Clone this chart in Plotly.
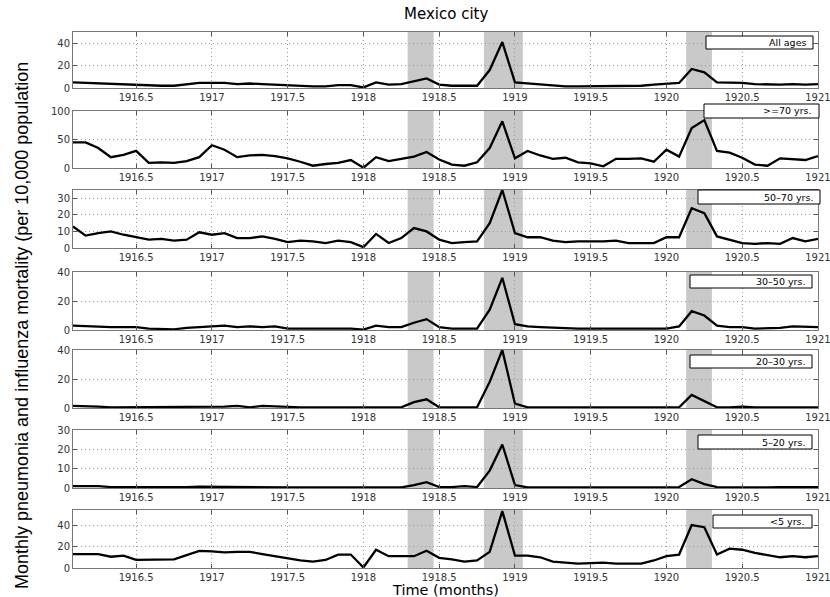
import plotly.graph_objects as go

# ---------------- data ----------------
months = [1916 + k / 12 for k in range(1, 61)]

all_ages = [5, 4.5, 4, 3.5, 3.5, 3, 2, 2, 2, 3, 4.5, 4.5,
            4.5, 3.5, 4, 3.5, 3, 2, 1.5, 1.5, 1.5, 2.5, 2.5, 0.5,
            5, 3, 3.5, 6, 8.5, 3, 2, 2, 2, 16, 41, 5,
            4, 3.5, 2.5, 1.5, 1.5, 1.5, 1.5, 1.5, 1.5, 2, 3, 4,
            4.5, 17, 14, 5, 5, 4.5, 3.5, 3, 3, 3.5, 3, 3.5]
age_70 = [45, 45, 35, 19, 23, 30, 9, 10, 9, 12, 19, 40,
          32, 19, 22, 23, 21, 17, 11, 4, 7, 9, 14, 0.5,
          19, 12, 16, 20, 28, 15, 6, 4, 10, 35, 82, 17,
          30, 22, 16, 18, 10, 8, 3, 16, 16, 17, 11, 32,
          20, 70, 84, 30, 27, 18, 6, 4, 17, 16, 14, 21]
age_50_70 = [13, 7.5, 9, 10, 8, 6.5, 5, 5.5, 4.5, 5, 9.5, 8,
             9, 6, 6, 7, 5.5, 3.5, 4.5, 4, 3, 4.5, 3.5, 0.5,
             8.5, 3, 6, 12, 10, 5, 3, 3.5, 4, 15, 35, 9,
             6.5, 6.5, 4.5, 3.5, 4, 4, 4, 4.5, 3, 3, 3, 6.5,
             6.5, 24, 21, 7, 5, 3, 2.5, 3, 2.5, 6, 4, 5.5]
age_30_50 = [3, 2.5, 2, 2, 2, 2, 1, 1, 0.5, 1.5, 2, 3,
             3, 2, 2.5, 2, 2.5, 1, 1, 1, 1, 1, 1, 0.3,
             3, 2, 2, 5, 7.5, 2, 1, 1, 1, 14, 36, 4,
             2.5, 2, 1.5, 1, 1, 1, 1, 0.5, 1, 1, 1, 1,
             2.5, 13, 10, 3, 2, 2, 1, 1, 1.5, 2.5, 2, 2]
age_20_30 = [1.5, 1.5, 1, 0.5, 0.5, 0.5, 0.5, 0.5, 0.5, 0.5, 1, 1,
             1, 1.5, 0.5, 1.5, 1, 0.5, 0.5, 0.5, 0.5, 0.5, 0.5, 0.2,
             0.5, 0.5, 0.5, 4, 6, 0.5, 0.5, 0.5, 0.5, 18, 40, 3,
             0.5, 0.5, 0.5, 0.5, 0.5, 1, 0.5, 0.5, 0.5, 0.5, 0.5, 0.5,
             0.5, 9, 5, 0.5, 0.5, 1, 0.5, 0.5, 0.5, 0.5, 0.5, 0.5]
age_5_20 = [1, 1, 1, 0.5, 0.5, 0.5, 0.2, 0.3, 0.3, 0.5, 0.7, 0.6,
            0.8, 0.4, 0.4, 0.4, 0.4, 0.3, 0.3, 0.3, 0.3, 0.3, 0.3, 0.1,
            0.3, 0.3, 0.3, 1.5, 3, 0.5, 0.5, 1, 0.5, 9, 22.5, 1.5,
            0.3, 0.3, 0.3, 0.3, 0.3, 0.4, 0.3, 0.3, 0.3, 0.4, 0.3, 0.4,
            0.5, 4.5, 2, 0.5, 0.4, 0.4, 0.3, 0.3, 0.4, 0.5, 0.3, 0.4]
age_lt5 = [13, 13, 13, 10.5, 11.5, 7.5, 7.5, 7.5, 8, 12, 16, 15.5,
           14.5, 15, 15, 13, 11, 8.5, 7, 6, 7.5, 12.5, 12.5, 0.5,
           17, 11, 11, 11, 16, 9.5, 8, 6, 7, 15, 53, 11.5,
           11.5, 10, 6, 5, 4, 4.5, 5, 4, 4, 4, 7, 11,
           12.5, 40, 38, 12.5, 18, 17, 14, 12, 10, 11, 10, 11]

series_names = ["All ages", ">=70 yrs.", "50\u201370 yrs.", "30\u201350 yrs.",
                "20\u201330 yrs.", "5\u201320 yrs.", "<5 yrs."]
series_values = [all_ages, age_70, age_50_70, age_30_50, age_20_30, age_5_20, age_lt5]
y_ranges = [[0, 50], [0, 100], [0, 35], [0, 40], [0, 40], [0, 30], [0, 54]]
y_ticks = [[0, 20, 40], [0, 50, 100], [0, 10, 20, 30], [0, 20, 40],
           [0, 20, 40], [0, 10, 20, 30], [0, 20, 40]]
x_ticks = [1916.5, 1917, 1917.5, 1918, 1918.5, 1919, 1919.5, 1920, 1920.5, 1921]
x_ticktext = ["1916.5", "1917", "1917.5", "1918", "1918.5", "1919", "1919.5",
              "1920", "1920.5", "1921"]
shade_periods = [[1918.292, 1918.463], [1918.795, 1919.052], [1920.13, 1920.30]]

# ---------------- layout geometry (pixels) ----------------
W, H = 830, 597
L, R, T, B = 73, 12, 32, 29
PW, PH = W - L - R, H - T - B
panels_px = [(32, 88), (111, 168), (190, 248), (272, 330), (350, 408), (430, 488), (510, 568)]
legend_px = [(706, 813, 36, 49), (704, 819, 104, 118), (698, 820, 190, 204),
             (690, 812, 275, 288), (690, 812, 355, 368), (698, 812, 435, 449),
             (713, 812, 515, 528)]


def py(p):
    return (H - B - p) / PH


def px(p):
    return (p - L) / PW


fig = go.Figure()
shapes = []
annotations = []
tick_font = dict(family="DejaVu Sans", size=10, color="#333333")

for i, (name, vals) in enumerate(zip(series_names, series_values)):
    n = i + 1
    xa = "x" if n == 1 else f"x{n}"
    ya = "y" if n == 1 else f"y{n}"
    fig.add_trace(go.Scatter(x=months, y=vals, mode="lines",
                             line=dict(color="black", width=2.3),
                             xaxis=xa, yaxis=ya, showlegend=False,
                             name=name))
    top, bot = panels_px[i]
    axcommon = dict(showline=True, linecolor="#777777", linewidth=1, mirror="ticks",
                    ticks="inside", ticklen=4, tickcolor="#555555",
                    showgrid=True, gridcolor="#999999", griddash="1px,3px", gridwidth=1,
                    zeroline=False, tickfont=tick_font, automargin=False,
                    ticklabeloverflow="allow")
    fig.layout[("xaxis" if n == 1 else f"xaxis{n}")] = dict(
        domain=[0, 1], anchor=ya, range=[months[0], 1921.0001],
        tickvals=x_ticks, ticktext=x_ticktext, **axcommon)
    fig.layout[("yaxis" if n == 1 else f"yaxis{n}")] = dict(
        domain=[py(bot), py(top)], anchor=xa, range=y_ranges[i],
        tickvals=y_ticks[i], **axcommon)
    for (a, b) in shade_periods:
        shapes.append(dict(type="rect", xref=xa, yref=f"{ya} domain",
                           x0=a, x1=b, y0=0, y1=1, fillcolor="#c9c9c9",
                           line=dict(width=0), layer="below"))
    x0, x1, y0, y1 = legend_px[i]
    shapes.append(dict(type="rect", xref="paper", yref="paper",
                       x0=px(x0), x1=px(x1), y0=py(y1), y1=py(y0),
                       fillcolor="white", line=dict(color="black", width=1),
                       layer="above"))
    annotations.append(dict(text=name, xref="paper", yref="paper",
                            x=px(x1 - 5), y=py((y0 + y1) / 2),
                            xanchor="right", yanchor="middle", showarrow=False,
                            font=dict(family="DejaVu Sans", size=9.5, color="black")))

annotations.append(dict(text="Mexico city", xref="paper", yref="paper",
                        x=0.5, y=py(14), xanchor="center", yanchor="middle",
                        showarrow=False,
                        font=dict(family="DejaVu Sans", size=15, color="black")))
annotations.append(dict(text="Time (months)", xref="paper", yref="paper",
                        x=0.5, y=py(590), xanchor="center", yanchor="middle",
                        showarrow=False,
                        font=dict(family="DejaVu Sans", size=14.5, color="black")))
annotations.append(dict(text="Monthly pneumonia and influenza mortality (per 10,000 population",
                        xref="paper", yref="paper", x=px(22), y=py(326),
                        xanchor="center", yanchor="middle", textangle=-90,
                        showarrow=False,
                        font=dict(family="Liberation Sans", size=18, color="black")))

fig.update_layout(template="none", width=W, height=H,
                  margin=dict(l=L, r=R, t=T, b=B, autoexpand=False),
                  paper_bgcolor="white", plot_bgcolor="white",
                  shapes=shapes, annotations=annotations, showlegend=False)

fig.write_html("out.html", config={"displayModeBar": False},
               post_script="document.body.style.margin='0px';document.body.style.padding='0px';")
